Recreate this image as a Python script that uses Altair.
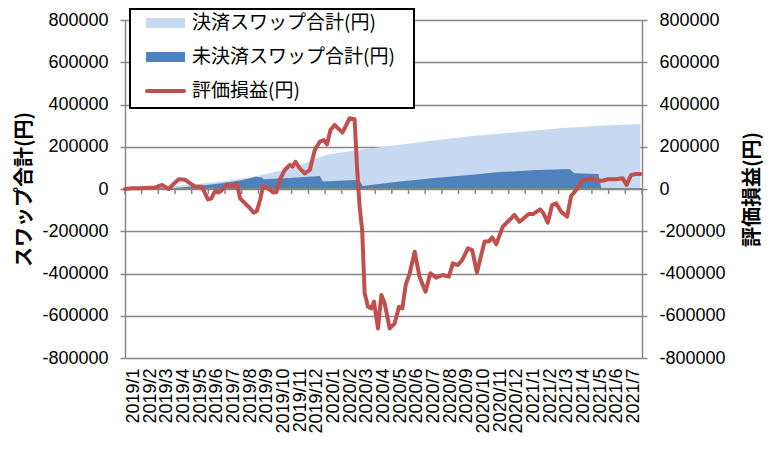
import json
import altair as alt
import pandas as pd

# ---------------- data ----------------
month_labels = [
    "2019/1", "2019/2", "2019/3", "2019/4", "2019/5", "2019/6", "2019/7", "2019/8",
    "2019/9", "2019/10", "2019/11", "2019/12", "2020/1", "2020/2", "2020/3", "2020/4",
    "2020/5", "2020/6", "2020/7", "2020/8", "2020/9", "2020/10", "2020/11", "2020/12",
    "2021/1", "2021/2", "2021/3", "2021/4", "2021/5", "2021/6", "2021/7",
]
series_names = ["決済スワップ合計(円)", "未決済スワップ合計(円)", "評価損益(円)"]

# time in months since start of 2019/1
pnl_t = [0.00, 0.42, 0.90, 1.38, 1.80, 2.22, 2.62, 2.93, 3.22, 3.59,
         3.91, 4.21, 4.61, 4.97, 5.17, 5.41, 5.61, 5.81, 6.11, 6.41,
         6.71, 6.90, 7.20, 7.50, 7.71, 7.90, 8.10, 8.28, 8.58, 8.88,
         9.08, 9.28, 9.58, 9.88, 10.04, 10.22, 10.48, 10.78, 11.08, 11.38,
         11.68, 11.92, 12.11, 12.32, 12.57, 13.04, 13.47, 13.77, 13.91, 14.07,
         14.22, 14.37, 14.57, 14.77, 14.93, 15.17, 15.37, 15.57, 15.87, 16.17,
         16.43, 16.63, 16.83, 17.07, 17.37, 17.66, 18.02, 18.31, 18.66, 19.06,
         19.42, 19.66, 19.96, 20.22, 20.56, 20.82, 21.10, 21.56, 21.81, 22.02,
         22.26, 22.65, 22.95, 23.35, 23.65, 23.89, 24.21, 24.49, 24.89, 25.09,
         25.35, 25.61, 25.85, 26.15, 26.51, 26.75, 27.05, 27.44, 27.68, 28.01,
         28.34, 28.64, 28.94, 29.44, 29.84, 30.08, 30.34, 30.64, 30.90]
pnl_v = [0, 3000, 3000, 6000, 6000, 19000, 0, 25000, 46000, 44000,
         27000, 11000, 11000, -49000, -45000, -8000, -17000, -5000, 22000, 12000,
         27000, -44000, -68000, -91000, -112000, -105000, -52000, 14000, 3000, -17000,
         -15000, 43000, 90000, 114000, 106000, 129000, 98000, 74000, 90000, 185000,
         224000, 232000, 211000, 279000, 303000, 267000, 335000, 330000, 106000, -84000,
         -194000, -494000, -557000, -565000, -533000, -660000, -502000, -541000, -660000, -636000,
         -557000, -565000, -454000, -399000, -297000, -415000, -486000, -399000, -420000, -407000,
         -415000, -352000, -360000, -336000, -281000, -289000, -395000, -249000, -249000, -229000,
         -262000, -178000, -155000, -123000, -155000, -140000, -118000, -118000, -96000, -115000,
         -159000, -76000, -68000, -107000, -131000, -33000, -5000, 43000, 43000, 51000,
         39000, 39000, 46000, 46000, 51000, 19000, 66000, 71000, 71000]

settled_t = [0.00, 1.50, 2.99, 4.49, 5.99, 7.49, 8.20, 9.28, 10.48, 11.14, 11.68,
             12.10, 12.87, 14.07, 15.87, 18.26, 20.66, 22.46, 24.25, 26.05, 28.44, 30.90]
settled_v = [0, 5000, 14000, 25000, 38000, 55000, 68000, 85000, 112000, 133000, 152000,
             162000, 172000, 186000, 203000, 227000, 250000, 262000, 275000, 287000, 300000, 308000]

open_t = [0.00, 2.10, 2.69, 3.29, 4.49, 5.81, 6.89, 7.84, 8.20, 8.32, 9.88, 11.68, 11.86,
          13.77, 14.07, 14.25, 16.47, 18.86, 20.66, 22.28, 24.67, 26.65, 26.95, 28.38, 28.56, 30.90]
open_v = [0, 0, 3000, 7000, 15000, 27000, 40000, 58000, 55000, 46000, 52000, 62000, 36000,
          43000, 40000, 14000, 35000, 55000, 66000, 79000, 90000, 95000, 74000, 71000, 5000, 5000]

month_ticks = list(range(0, 32))
y_ticks = list(range(-800000, 800001, 200000))

# ---------------- style ----------------
NUM_FONT = "Liberation Sans"
JP_FONT = "Noto Sans CJK JP"
GRAY = "#868686"
C_SETTLED = "#C6D9F0"
C_OPEN = "#4F81BD"
C_PNL = "#C0504D"

pnl_df = pd.DataFrame({"t": pnl_t, "v": pnl_v})
settled_df = pd.DataFrame({"t": settled_t, "v": settled_v})
open_df = pd.DataFrame({"t": open_t, "v": open_v})
tick_df = pd.DataFrame({"t": month_ticks})

x_scale = alt.Scale(domain=[0, 31], nice=False, zero=False)
y_scale = alt.Scale(domain=[-800000, 800000], nice=False, zero=False)

label_expr = json.dumps(month_labels, ensure_ascii=False) + "[floor(datum.value)]"

x_axis = alt.Axis(
    values=[i + 0.5 for i in range(len(month_labels))],
    labelExpr=label_expr, labelAngle=270, labelOverlap=False,
    domain=False, ticks=False, tickSize=0, grid=False, title=None,
    labelFont=NUM_FONT, labelFontSize=18, labelColor="#000000", labelPadding=10,
)

common_y = dict(
    values=y_ticks, labelExpr="'' + datum.value", labelFont=NUM_FONT, labelFontSize=18,
    labelColor="#000000", labelPadding=12, labelOverlap=False,
    domainColor=GRAY, domainWidth=1.5, tickColor=GRAY, tickWidth=1.5, tickSize=5,
    titleFont=JP_FONT, titleFontSize=20, titleFontWeight="bold", titleColor="#000000",
    titleAngle=270, titleAlign="center", titleBaseline="middle", titleY=169,
)
left_axis = alt.Axis(title="スワップ合計(円)", orient="left", grid=True,
                     gridColor=GRAY, gridWidth=1.5, titleX=-101, **common_y)
right_axis = alt.Axis(title="評価損益(円)", orient="right", grid=False,
                      titleX=110, **common_y)

X = alt.X("t:Q", scale=x_scale, axis=x_axis)

settled_area = alt.Chart(settled_df).mark_area(color=C_SETTLED, opacity=1).encode(
    x=X,
    y=alt.Y("v:Q", scale=y_scale, axis=left_axis),
)
open_area = alt.Chart(open_df).mark_area(color=C_OPEN, opacity=1).encode(
    x=X,
    y=alt.Y("v:Q", scale=y_scale, axis=left_axis),
)
zero_line = alt.Chart(tick_df).mark_rule(color=GRAY, strokeWidth=1.5).encode(
    x=alt.datum(0, scale=x_scale, axis=x_axis), x2=alt.datum(31), y=alt.datum(0),
)
tick_marks = alt.Chart(tick_df).mark_rule(color=GRAY, strokeWidth=1.5).encode(
    x=X,
    y=alt.datum(0),
    y2=alt.datum(-24000),
)
left_group = alt.layer(settled_area, open_area, zero_line, tick_marks)

pnl_line = alt.Chart(pnl_df).mark_line(
    color=C_PNL, strokeWidth=4, strokeCap="round", strokeJoin="round"
).encode(
    x=X,
    y=alt.Y("v:Q", scale=y_scale, axis=right_axis),
)

# ---------------- legend (drawn inside the chart, top-left) ----------------
leg_box = alt.Chart(pd.DataFrame({"k": [0]})).mark_rect(
    fill="white", stroke="black", strokeWidth=2
).encode(x=alt.value(5), x2=alt.value(289), y=alt.value(-11), y2=alt.value(88))

legend_layers = [leg_box]
row_y = [3, 37, 71]
for i, name in enumerate(series_names):
    d = pd.DataFrame({"name": [name]})
    if i < 2:
        sym = alt.Chart(d).mark_rect(color=[C_SETTLED, C_OPEN][i]).encode(
            x=alt.value(21), x2=alt.value(60),
            y=alt.value(row_y[i] - 5), y2=alt.value(row_y[i] + 5),
        )
    else:
        sym = alt.Chart(d).mark_rule(color=C_PNL, strokeWidth=4, strokeCap="round").encode(
            x=alt.value(22), x2=alt.value(59), y=alt.value(row_y[i]),
        )
    txt = alt.Chart(d).mark_text(
        align="left", baseline="middle", font=JP_FONT, fontSize=19, color="#000000"
    ).encode(x=alt.value(67), y=alt.value(row_y[i]), text="name:N")
    legend_layers += [sym, txt]

legend_group = alt.layer(*legend_layers)

chart = alt.layer(left_group, pnl_line, legend_group).resolve_scale(
    y="independent"
).properties(
    width=517, height=338,
    padding={"left": 117, "top": 12, "right": 130, "bottom": 100},
    autosize=alt.AutoSizeParams(type="none"),
).configure_view(stroke=None).configure_axisX(labelOverlap=False).configure(background="white")

chart.save("out.html", embed_options={"renderer": "svg", "actions": False})
